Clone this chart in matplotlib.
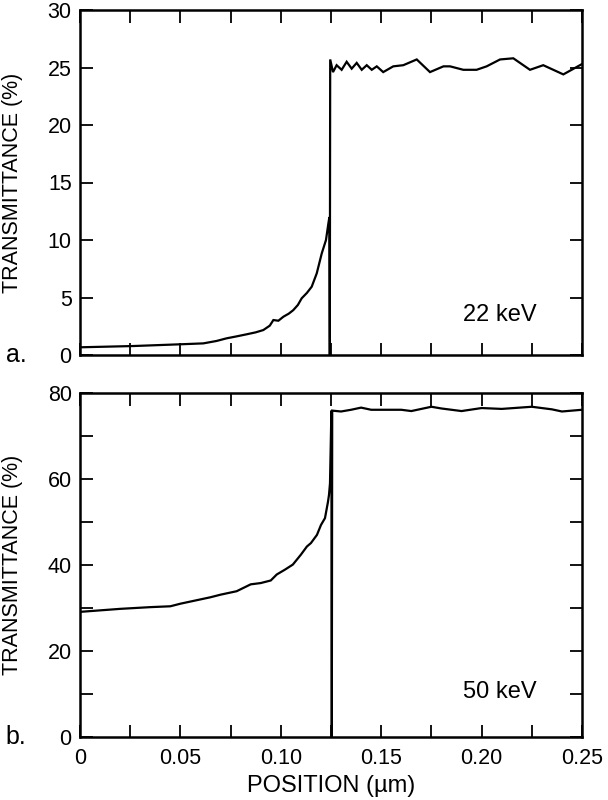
import matplotlib
matplotlib.use("Agg")
import matplotlib.pyplot as plt
from matplotlib.ticker import MultipleLocator

plt.rcParams['font.family'] = ['Liberation Sans', 'DejaVu Sans']

# Panel a: 22 keV
pos_a = [0.0, 0.0266, 0.0498, 0.0614, 0.068, 0.073, 0.078, 0.083, 0.0875, 0.0913, 0.0945,
         0.0963, 0.0988, 0.1013, 0.1040, 0.1062, 0.1085, 0.1104, 0.1130, 0.1154, 0.1179,
         0.1204, 0.1225, 0.1237, 0.1242, 0.1244, 0.1246,
         0.126, 0.1278, 0.1303, 0.1328, 0.1353, 0.1378, 0.1403, 0.1428, 0.1453, 0.1478,
         0.151, 0.156, 0.161, 0.1677, 0.1743, 0.181, 0.1843, 0.1909, 0.1975, 0.2025,
         0.2092, 0.2158, 0.2241, 0.2307, 0.2407, 0.25]
trans_a = [0.67, 0.78, 0.93, 1.01, 1.22, 1.45, 1.62, 1.8, 1.97, 2.17, 2.55,
           3.04, 2.98, 3.33, 3.6, 3.9, 4.35, 4.93, 5.4, 5.94, 7.1,
           8.84, 10.0, 11.45, 12.0, 0.0, 25.7,
           24.6, 25.2, 24.8, 25.5, 24.9, 25.4, 24.8, 25.2, 24.8, 25.1,
           24.6, 25.1, 25.2, 25.7, 24.6, 25.1, 25.1, 24.8, 24.8, 25.1,
           25.7, 25.8, 24.8, 25.2, 24.4, 25.3]

# Panel b: 50 keV
pos_b = [0.0, 0.02, 0.035, 0.045, 0.05, 0.055, 0.06, 0.065, 0.07, 0.078, 0.085, 0.09,
         0.095, 0.098, 0.102, 0.106, 0.11, 0.113, 0.115, 0.118, 0.12, 0.122,
         0.1235, 0.124, 0.1245, 0.1252, 0.1254, 0.1256,
         0.13, 0.135, 0.14, 0.145, 0.155, 0.16, 0.165, 0.175, 0.18, 0.19,
         0.2, 0.21, 0.225, 0.235, 0.24, 0.25]
trans_b = [29.1, 29.8, 30.2, 30.4, 31.0, 31.5, 32.0, 32.5, 33.1, 33.9, 35.5, 35.8,
           36.4, 37.8, 38.9, 40.1, 42.4, 44.3, 45.1, 47.0, 49.3, 50.9,
           54.7, 56.3, 59.0, 75.9, 0.0, 75.9,
           75.7, 76.1, 76.6, 76.1, 76.1, 76.1, 75.8, 76.8, 76.4, 75.8,
           76.5, 76.3, 76.8, 76.2, 75.7, 76.1]

xticks = [0, 0.05, 0.10, 0.15, 0.20, 0.25]
xticklabels = ['0', '0.05', '0.10', '0.15', '0.20', '0.25']

fig = plt.figure(figsize=(6.08, 8.0), dpi=100)
ax1 = fig.add_axes([80/608, 1-355/800, (582-80)/608, (355-10)/800])
ax2 = fig.add_axes([80/608, 1-737/800, (582-80)/608, (737-393)/800])

lw = 1.6
ax1.plot(pos_a, trans_a, color='black', lw=lw, solid_joinstyle='miter')
ax2.plot(pos_b, trans_b, color='black', lw=lw, solid_joinstyle='miter')

for ax in (ax1, ax2):
    ax.set_xlim(0, 0.25)
    ax.xaxis.set_major_locator(MultipleLocator(0.05))
    ax.xaxis.set_minor_locator(MultipleLocator(0.025))
    ax.tick_params(which='both', direction='in', length=9, width=1.3,
                   top=True, right=True, labelsize=15.5, pad=6)
    for s in ax.spines.values():
        s.set_linewidth(1.8)
    ax.set_ylabel('TRANSMITTANCE (%)', fontsize=15.5)
    ax.yaxis.set_label_coords(-0.113, 0.5)
    ax.text(-0.127, -0.021, 'a.' if ax is ax1 else 'b.', fontsize=18,
            ha='center', va='baseline', transform=ax.transAxes)

ax1.set_ylim(0, 30)
ax1.yaxis.set_major_locator(MultipleLocator(5))
ax1.yaxis.set_minor_locator(MultipleLocator(5))
ax1.tick_params(axis='x', labelbottom=False)
ax1.text(0.209, 3.5, '22 keV', fontsize=17, ha='center', va='center')

ax2.set_ylim(0, 80)
ax2.yaxis.set_major_locator(MultipleLocator(20))
ax2.yaxis.set_minor_locator(MultipleLocator(10))
ax2.set_xticks(xticks)
ax2.set_xticklabels(xticklabels)
ax2.tick_params(axis='x', pad=8)
ax2.set_xlabel('POSITION (\u00b5m)', fontsize=17)
ax2.xaxis.set_label_coords(0.5, -0.11)
ax2.text(0.209, 10.4, '50 keV', fontsize=17, ha='center', va='center')

fig.savefig('out.png', dpi=100)
